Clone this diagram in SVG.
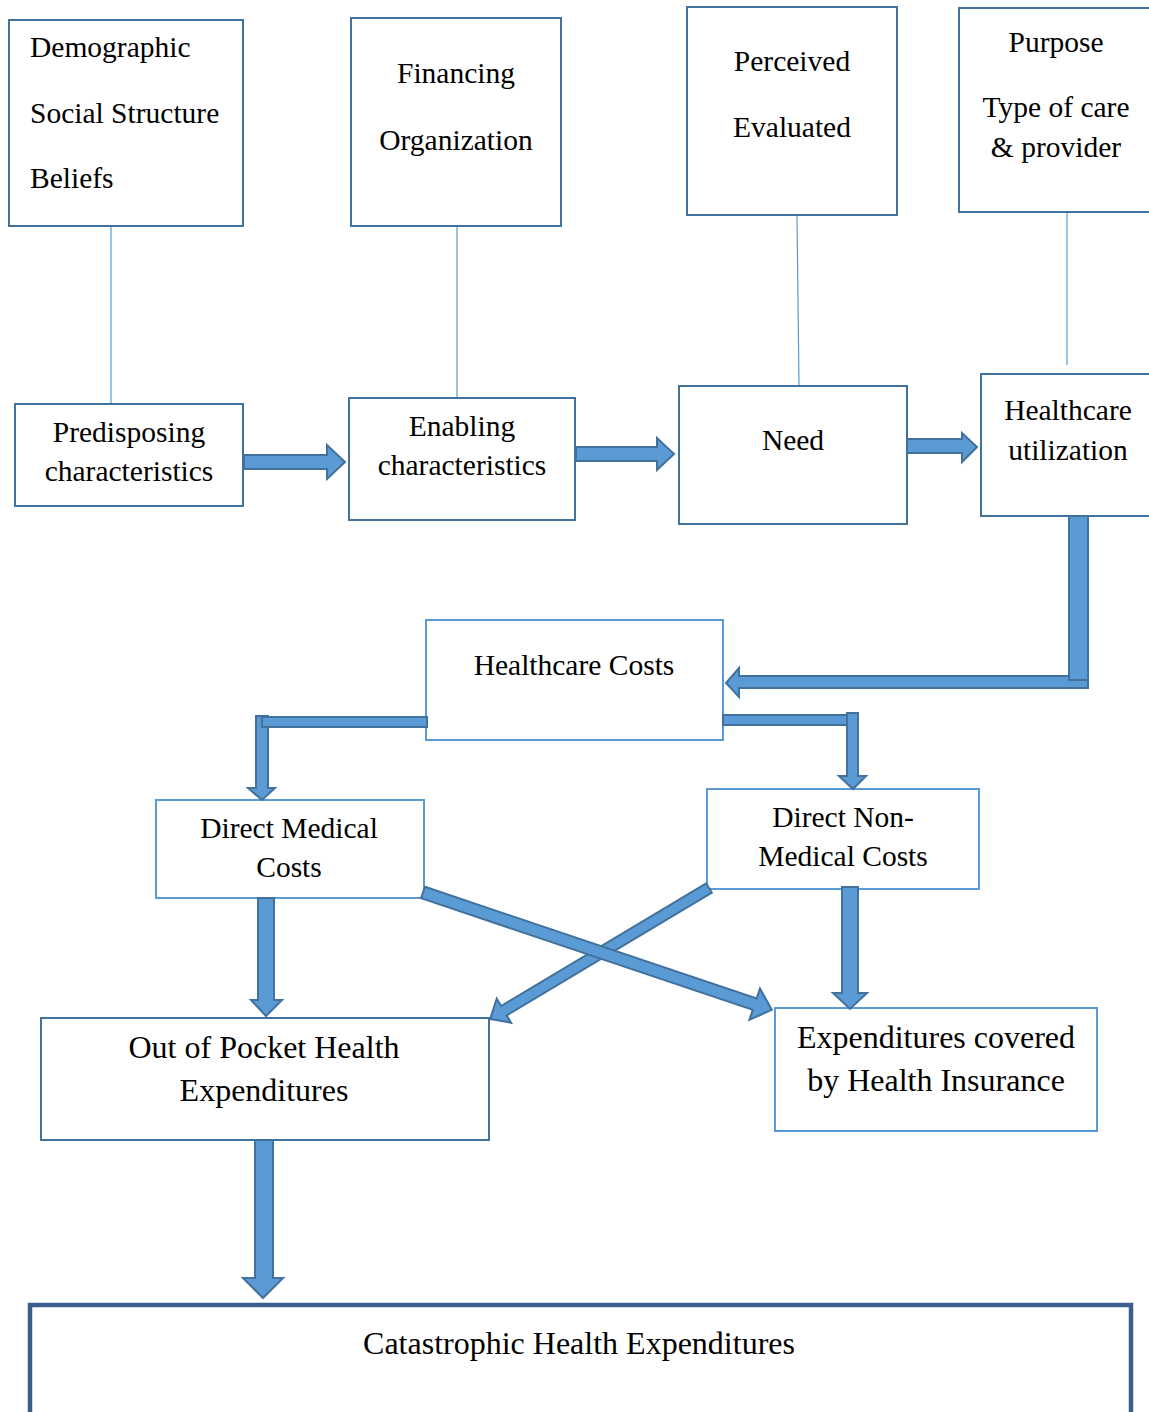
<svg xmlns="http://www.w3.org/2000/svg" width="1149" height="1412" viewBox="0 0 1149 1412">
  <style>
    text { font-family: "Liberation Serif", "Times New Roman", serif; font-size: 29.5px; fill: #000; }
    .c { text-anchor: middle; }
    .big { font-size: 32px; }
    .dark { fill: #fff; stroke: #41719c; stroke-width: 2; }
    .light { fill: #fff; stroke: #5b9bd5; stroke-width: 2; }
    .heavy { fill: #fff; stroke: #3a5f8e; stroke-width: 4.5; }
    .link { stroke: #5b9bd5; stroke-width: 1.2; fill: none; }
    .arrow { fill: #5b9bd5; stroke: #41719c; stroke-width: 2; stroke-linejoin: miter; }
  </style>

  <!-- thin links between category boxes and model stages -->
  <g id="links">
    <line class="link" x1="111" y1="226" x2="111" y2="404"/>
    <line class="link" x1="457" y1="226" x2="457" y2="398"/>
    <line class="link" x1="797" y1="216" x2="799" y2="386"/>
    <line class="link" x1="1067" y1="209" x2="1067" y2="365"/>
  </g>

  <!-- top row: categories -->
  <g id="demographic">
    <rect class="dark" x="9" y="20" width="234" height="206"/>
    <text x="30" y="57">Demographic</text>
    <text x="30" y="123">Social Structure</text>
    <text x="30" y="188">Beliefs</text>
  </g>
  <g id="financing">
    <rect class="dark" x="351" y="18" width="210" height="208"/>
    <text class="c" x="456" y="83">Financing</text>
    <text class="c" x="456" y="150">Organization</text>
  </g>
  <g id="perceived">
    <rect class="dark" x="687" y="7" width="210" height="208"/>
    <text class="c" x="792" y="71">Perceived</text>
    <text class="c" x="792" y="137">Evaluated</text>
  </g>
  <g id="purpose">
    <rect class="dark" x="959" y="8" width="200" height="204"/>
    <text class="c" x="1056" y="52">Purpose</text>
    <text class="c" x="1056" y="117">Type of care</text>
    <text class="c" x="1056" y="157">&amp; provider</text>
  </g>

  <!-- second row: model stages -->
  <g id="predisposing">
    <rect class="dark" x="15" y="404" width="228" height="102"/>
    <text class="c" x="129" y="442">Predisposing</text>
    <text class="c" x="129" y="481">characteristics</text>
  </g>
  <g id="enabling">
    <rect class="dark" x="349" y="398" width="226" height="122"/>
    <text class="c" x="462" y="436">Enabling</text>
    <text class="c" x="462" y="475">characteristics</text>
  </g>
  <g id="need">
    <rect class="dark" x="679" y="386" width="228" height="138"/>
    <text class="c" x="793" y="450">Need</text>
  </g>
  <g id="utilization">
    <rect class="dark" x="981" y="374" width="180" height="142"/>
    <text class="c" x="1068" y="420">Healthcare</text>
    <text class="c" x="1068" y="460">utilization</text>
  </g>

  <!-- costs -->
  <g id="healthcare-costs">
    <rect class="light" x="426" y="620" width="297" height="120"/>
    <text class="c" x="574" y="675">Healthcare Costs</text>
  </g>
  <g id="direct-medical">
    <rect class="light" x="156" y="800" width="268" height="98"/>
    <text class="c" x="289" y="838">Direct Medical</text>
    <text class="c" x="289" y="877">Costs</text>
  </g>
  <g id="direct-non-medical">
    <rect class="light" x="707" y="789" width="272" height="100"/>
    <text class="c" x="843" y="827">Direct Non-</text>
    <text class="c" x="843" y="866">Medical Costs</text>
  </g>
  <g id="out-of-pocket">
    <rect class="dark" x="41" y="1018" width="448" height="122"/>
    <text class="c big" x="264" y="1058">Out of Pocket Health</text>
    <text class="c big" x="264" y="1101">Expenditures</text>
  </g>
  <g id="insurance">
    <rect class="light" x="775" y="1008" width="322" height="123"/>
    <text class="c big" x="936" y="1048">Expenditures covered</text>
    <text class="c big" x="936" y="1091">by Health Insurance</text>
  </g>
  <g id="catastrophic">
    <rect class="heavy" x="30" y="1305" width="1101" height="125"/>
    <text class="c big" x="579" y="1354">Catastrophic Health Expenditures</text>
  </g>

  <!-- block arrows -->
  <g id="connectors">
    <polygon class="arrow" points="244,455 327,455 327,445 345,462 327,479 327,469 244,469"/>
    <polygon class="arrow" points="576,447 657,447 657,438 674,454 657,470 657,461 576,461"/>
    <polygon class="arrow" points="907,439 962,439 962,433 977,447 962,462 962,453 907,453"/>

    <!-- utilization to healthcare costs (bent) -->
    <polygon class="arrow" points="739,676 1088,676 1088,688 739,688 739,697 726,683 739,668"/>
    <rect class="arrow" x="1069" y="516" width="19" height="164"/>

    <!-- healthcare costs to direct medical (bent) -->
    <polygon class="arrow" points="256,716 268,716 268,788 275,788 262,800 248,788 256,788"/>
    <rect class="arrow" x="262" y="717" width="165" height="10"/>

    <!-- healthcare costs to direct non-medical (bent) -->
    <rect class="arrow" x="723" y="715" width="130" height="10"/>
    <polygon class="arrow" points="847,713 858,713 858,776 866,776 853,789 839,776 847,776"/>

    <!-- straight down arrows -->
    <polygon class="arrow" points="258,898 274,898 274,1000 282,1000 266,1016 251,1000 258,1000"/>
    <polygon class="arrow" points="842,887 858,887 858,993 867,993 850,1009 833,993 842,993"/>
    <polygon class="arrow" points="255,1140 273,1140 273,1278 283,1278 263,1298 243,1278 255,1278"/>

    <!-- crossing diagonals -->
    <polygon class="arrow" transform="translate(709,888) rotate(149.1)" points="0,-5.5 239,-5.5 239,-14 255,0 239,14 239,5.5 0,5.5"/>
    <polygon class="arrow" transform="translate(423,892.5) rotate(18.6)" points="0,-6 350,-6 350,-16.5 368,0 350,16.5 350,6 0,6"/>
  </g>
</svg>
